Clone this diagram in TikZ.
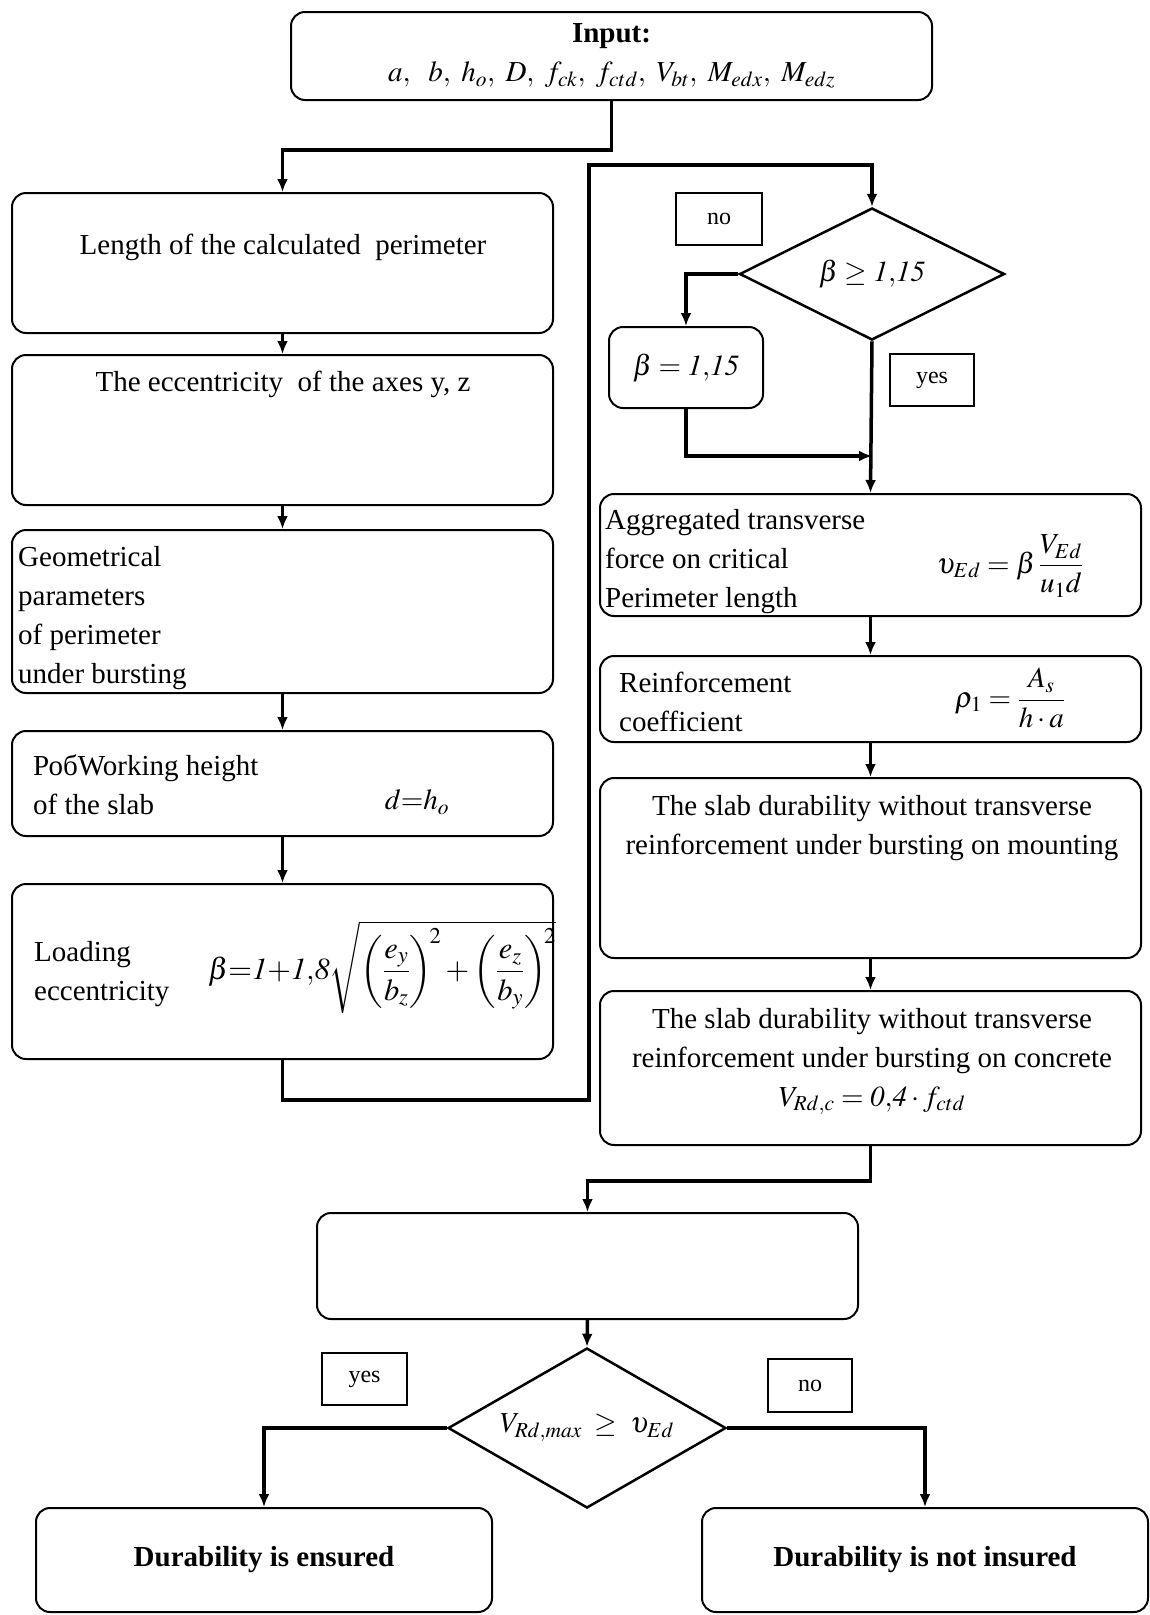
\documentclass[tikz,border=0pt]{standalone}
\usepackage{amsmath}
\usepackage{mathptmx}
\usepackage{fontspec}
\setmainfont{Liberation Serif}
\usepackage{tikz}
\usetikzlibrary{arrows.meta}
\usetikzlibrary{shapes.geometric}

\tikzset{
    box/.style={draw, line width=2pt, rounded corners=14pt, inner sep=0pt},
    flag/.style={draw, line width=2pt, inner sep=0pt, font=\fontsize{24}{28}\selectfont},
    cond/.style={draw, diamond, line width=2.5pt, inner sep=0pt},
    txt/.style={inner sep=0pt},
    flow/.style={line width=3.5pt, -{Latex[length=13pt,width=11pt]}},
}

\begin{document}
\begin{tikzpicture}[x=1pt, y=-1pt, font=\fontsize{29}{39}\selectfont]
        \useasboundingbox (0,0) rectangle (1150,1615);

        \node[box, minimum width=641pt, minimum height=88pt, align=center] (input) at (611.5,56)
            {\textbf{Input:}\\ $a,\ \ b,\ h_o,\ D,\ f_{ck},\ f_{ctd},\ V_{bt},\ M_{edx},\ M_{edz}$};

        \node[box, minimum width=541pt, minimum height=140pt] (len) at (282.5,263) {};
        \node[txt] (lenT) at (283,247) {Length of the calculated\ \ perimeter};
        \node[box, minimum width=541pt, minimum height=150pt] (ecc) at (282.5,430) {};
        \node[txt] (eccT) at (283,384) {The eccentricity\ \ of the axes y, z};
        \node[box, minimum width=541pt, minimum height=163pt] (geo) at (282.5,611.5) {};
        \node[txt, anchor=west, align=left] (geoT) at (18,618) {Geometrical\\ parameters\\ of perimeter\\ under bursting};
        \node[box, minimum width=541pt, minimum height=105pt] (work) at (282.5,783.5) {};
        \node[txt, anchor=west, align=left] (workT) at (33,785) {РобWorking height\\ of the slab};
        \node[txt] (workF) at (417,802) {$d{=}h_o$};
        \node[box, minimum width=541pt, minimum height=175pt] (load) at (282.5,971.5) {};
        \node[txt, anchor=west, align=left] (loadT) at (34,974.5) {Loading\\ eccentricity};
        \node[txt, scale=1.05] (loadF) at (382,967)
            {$\beta{=}\mathit{1}{+}\mathit{1{,}8}\sqrt{\left(\dfrac{e_y}{b_z}\right)^{\!2}+\left(\dfrac{e_z}{b_y}\right)^{\!2}}$};

        \node[cond, aspect=2, minimum width=265pt, minimum height=132pt] (cond1) at (872,274) {$\beta \geq \mathit{1{,}15}$};
        \node[flag, minimum width=86pt, minimum height=52pt] (no1) at (719,219) {no};
        \node[box, minimum width=154pt, minimum height=81pt] (beta) at (686,367.5) {$\beta = \mathit{1{,}15}$};
        \node[flag, minimum width=84pt, minimum height=52pt] (yes1) at (932,380) {yes};
        \coordinate (merge) at (872,456);

        \node[box, minimum width=541pt, minimum height=122pt] (agg) at (870.5,555) {};
        \node[txt, anchor=west, align=left] (aggT) at (605,562) {Aggregated transverse\\ force on critical\\ Perimeter length};
        \node[txt] (aggF) at (1010,566) {$\upsilon_{Ed} = \beta\,\dfrac{V_{Ed}}{u_1 d}$};
        \node[box, minimum width=541pt, minimum height=86pt] (coef) at (870.5,699) {};
        \node[txt, anchor=west, align=left] (coefT) at (619,701.5) {Reinforcement\\ coefficient};
        \node[txt] (coefF) at (1010,698) {$\rho_1 = \dfrac{A_s}{h\cdot a}$};
        \node[box, minimum width=541pt, minimum height=180pt] (mount) at (870.5,868) {};
        \node[txt, align=center] (mountT) at (872,828.5) {The slab durability without transverse\\ reinforcement under bursting on mounting};
        \node[box, minimum width=541pt, minimum height=154pt] (conc) at (870.5,1068) {};
        \node[txt, align=center] (concT) at (872,1061.5)
            {The slab durability without transverse\\ reinforcement under bursting on concrete\\ $V_{Rd,c} = \mathit{0{,}4}\cdot f_{ctd}$};

        \node[box, minimum width=541pt, minimum height=106pt] (check) at (587.5,1266) {};
        \node[cond, aspect=1.75, minimum width=278pt, minimum height=160pt] (cond2) at (587,1428) {$V_{Rd,max}\;\geq\;\upsilon_{Ed}$};
        \node[flag, minimum width=85pt, minimum height=52pt] (yes2) at (364.5,1379) {yes};
        \node[flag, minimum width=84pt, minimum height=53pt] (no2) at (810,1385.5) {no};
        \node[box, minimum width=456pt, minimum height=104pt] (ok) at (264,1560) {\textbf{Durability is ensured}};
        \node[box, minimum width=446pt, minimum height=104pt] (fail) at (925,1560) {\textbf{Durability is not insured}};

        \coordinate (loopA) at (589,1100);
        \coordinate (loopB) at (589,165);

        \draw[flow] (input.south) -- ++(0,49) -| (len.north);
        \foreach \a/\b in {len/ecc, ecc/geo, geo/work, work/load, agg/coef, coef/mount, mount/conc}
            \draw[flow] (\a.south) -- (\b.north);
        \draw[flow] (load.south) |- (loopA) -- (loopB) -| (cond1.north);
        \draw[flow] (cond1.west) -| (beta.north);
        \draw[flow] (beta.south) |- (merge);
        \draw[flow] (cond1.south) -- (agg.north);
        \draw[flow] (conc.south) -- ++(0,35) -| (check.north);
        \draw[flow] (check.south) -- (cond2.north);
        \draw[flow] (cond2.west) -| (ok.north);
        \draw[flow] (cond2.east) -| (fail.north);
    \end{tikzpicture}
\end{document}
